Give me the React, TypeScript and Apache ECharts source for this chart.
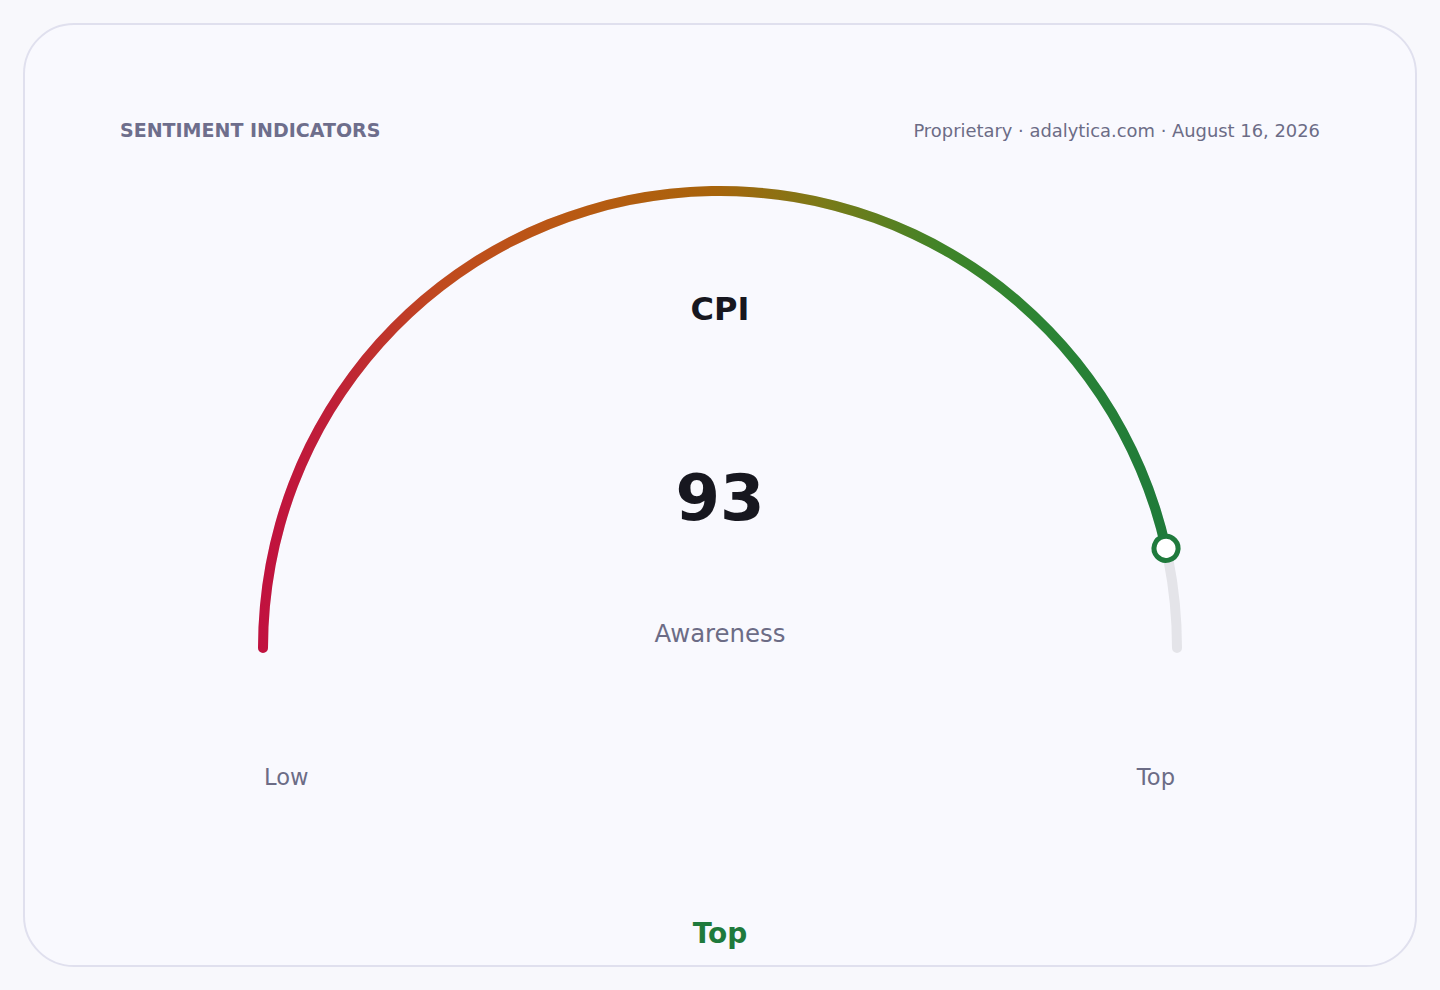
import React, { useEffect, useRef } from "react";
import * as echarts from "echarts";

// ---- data ----
const indicatorName = "CPI";
const indicatorValue = 93;
const indicatorSubtitle = "Awareness";
const scaleMin = 0;
const scaleMax = 100;
const rangeLabels = ["Low", "Top"];
const verdictLabel = "Top";
const headerTitle = "SENTIMENT INDICATORS";
const headerSource = "Proprietary · adalytica.com · August 16, 2026";

const FONT = "DejaVu Sans, Verdana, sans-serif";
const MUTED = "#6c6c86";
const GREEN = "#1f7a3c";

export default function App() {
  const ref = useRef<HTMLDivElement>(null);

  useEffect(() => {
    document.body.style.margin = "0";
    document.body.style.background = "#f8f8fc";
    if (!ref.current) return;
    const chart = echarts.init(ref.current, undefined, { renderer: "svg" });

    const cx = 720;
    const cy = 648;
    const outerR = 462;
    const band = 10;
    const midR = outerR - band / 2;
    const markerSize = 24;

    const gradient = new echarts.graphic.LinearGradient(0, 0, 1, 0, [
      { offset: 0, color: "#c1113f" },
      { offset: 0.08, color: "#bf1f38" },
      { offset: 0.2, color: "#c04a1e" },
      { offset: 0.35, color: "#b85a12" },
      { offset: 0.5, color: "#a8640c" },
      { offset: 0.62, color: "#7a7a18" },
      { offset: 0.75, color: "#3f8428" },
      { offset: 0.86, color: "#2b8434" },
      { offset: 1, color: "#1f7a3a" },
    ]);

    const common = {
      type: "gauge",
      center: [cx, cy],
      radius: outerR,
      startAngle: 180,
      endAngle: 0,
      min: scaleMin,
      max: scaleMax,
      splitLine: { show: false },
      axisTick: { show: false },
      axisLabel: { show: false },
      anchor: { show: false },
    };

    chart.setOption({
      animation: false,
      backgroundColor: "#f8f8fc",
      graphic: [
        {
          type: "rect",
          shape: { x: 24, y: 24, width: 1392, height: 942, r: 50 },
          style: { fill: "#f9f9fe", stroke: "#e0e0ee", lineWidth: 2 },
          z: -10,
          silent: true,
        },
        {
          type: "text",
          x: 120,
          y: 130,
          style: {
            text: headerTitle,
            font: `bold 19px ${FONT}`,
            fill: "#6e6e8c",
            textAlign: "left",
            textVerticalAlign: "middle",
          },
        },
        {
          type: "text",
          x: 1320,
          y: 130,
          style: {
            text: headerSource,
            font: `17.9px ${FONT}`,
            fill: MUTED,
            textAlign: "right",
            textVerticalAlign: "middle",
          },
        },
        {
          type: "text",
          x: 720,
          y: 633,
          style: {
            text: indicatorSubtitle,
            font: `24.4px ${FONT}`,
            fill: MUTED,
            textAlign: "center",
            textVerticalAlign: "middle",
          },
        },
        {
          type: "text",
          x: 264,
          y: 777,
          style: {
            text: rangeLabels[0],
            font: `22.6px ${FONT}`,
            fill: MUTED,
            textAlign: "left",
            textVerticalAlign: "middle",
          },
        },
        {
          type: "text",
          x: 1175,
          y: 777,
          style: {
            text: rangeLabels[1],
            font: `22.6px ${FONT}`,
            fill: MUTED,
            textAlign: "right",
            textVerticalAlign: "middle",
          },
        },
        {
          type: "text",
          x: 720,
          y: 933,
          style: {
            text: verdictLabel,
            font: `bold 28px ${FONT}`,
            fill: GREEN,
            textAlign: "center",
            textVerticalAlign: "middle",
          },
        },
      ],
      series: [
        {
          ...common,
          z: 2,
          axisLine: {
            roundCap: true,
            lineStyle: { width: band, color: [[1, "#e4e4e9"]] },
          },
          progress: {
            show: true,
            width: band,
            roundCap: true,
            itemStyle: { color: gradient },
          },
          pointer: { show: false },
          title: {
            show: true,
            offsetCenter: [0, -339],
            color: "#17171f",
            fontSize: 32,
            fontWeight: "bold",
            fontFamily: FONT,
          },
          detail: {
            show: true,
            offsetCenter: [0, -150],
            color: "#17171f",
            fontSize: 64,
            lineHeight: 64,
            fontWeight: "bold",
            fontFamily: FONT,
            padding: 0,
            width: 200,
            formatter: "{value}",
          },
          data: [{ value: indicatorValue, name: indicatorName }],
        },
        {
          ...common,
          z: 5,
          axisLine: { show: false },
          progress: { show: false },
          pointer: {
            show: true,
            icon: "circle",
            width: markerSize,
            length: markerSize,
            offsetCenter: [0, -(midR - markerSize / 2)],
            keepAspect: true,
            itemStyle: {
              color: "#ffffff",
              borderColor: GREEN,
              borderWidth: 5,
            },
          },
          title: { show: false },
          detail: { show: false },
          data: [{ value: indicatorValue, name: indicatorName }],
        },
      ],
    });

    return () => chart.dispose();
  }, []);

  return (
    <div
      ref={ref}
      style={{ position: "fixed", left: 0, top: 0, width: 1440, height: 990 }}
    />
  );
}
